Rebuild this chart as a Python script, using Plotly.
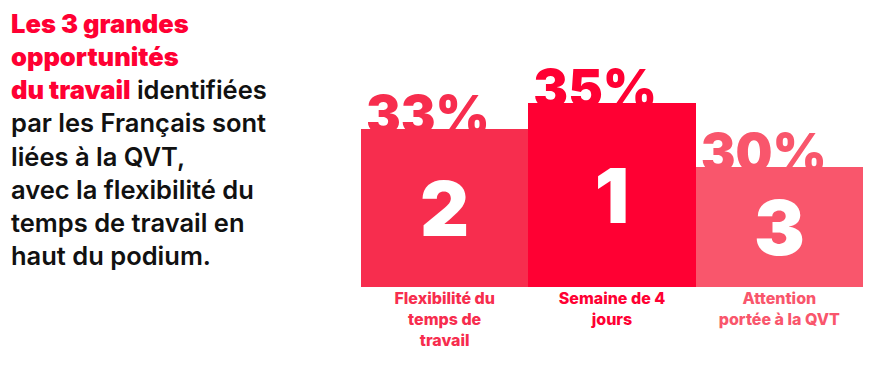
import plotly.graph_objects as go

# ---- data ----
categories = ["Flexibilité du<br>temps de<br>travail", "Semaine de 4<br>jours", "Attention<br>portée à la QVT"]
values = [33, 35, 30]
ranks = ["2", "1", "3"]
bar_colors = ["#F72D4E", "#FF0033", "#F9566C"]

# ---- layout constants ----
W, H = 889, 368
M_L, M_R, M_T, M_B = 361, 26, 40, 81
Y_MIN, Y_MAX = 20.5, 40.0
FONT = "Inter"
RED = "#FF0033"

plot_h = H - M_T - M_B
plot_w = W - M_L - M_R
px_per_unit = plot_h / (Y_MAX - Y_MIN)
xs = list(range(len(values)))

fig = go.Figure()

# percentage labels (main subplot, drawn beneath the bars of the overlay subplot)
pct_x = [i - 0.5 + 0.03 for i in xs]
pct_y = [v + 9 / px_per_unit for v in values]
fig.add_trace(go.Scatter(
    x=pct_x, y=pct_y, mode="text",
    text=[f"{v}%" for v in values],
    textposition="middle right",
    textfont=dict(family=FONT, size=52, color=bar_colors, weight=900),
    cliponaxis=False, hoverinfo="skip", showlegend=False,
    xaxis="x", yaxis="y",
))

# podium bars (overlay subplot, drawn on top)
fig.add_trace(go.Bar(
    x=xs, y=[v - Y_MIN for v in values], base=Y_MIN, width=1,
    marker=dict(color=bar_colors, line=dict(width=0)),
    text=ranks, textposition="inside", insidetextanchor="middle", textangle=0,
    textfont=dict(family=FONT, size=76, color="white", weight=900),
    hoverinfo="skip", showlegend=False,
    xaxis="x", yaxis="y2",
))

ticktext = []
for cat, col in zip(categories, bar_colors):
    lines = cat.split("<br>")
    ticktext.append("<br>".join(f'<span style="color:{col}">{ln}</span>' for ln in lines))

left_text = (
    f'<span style="color:{RED};font-weight:900">Les 3 grandes</span><br>'
    f'<span style="color:{RED};font-weight:900">opportunités</span><br>'
    f'<span style="color:{RED};font-weight:900">du travail</span> identifiées<br>'
    'par les Français sont<br>'
    'liées à la QVT,<br>'
    'avec la flexibilité du<br>'
    'temps de travail en<br>'
    'haut du podium.'
)
fig.add_annotation(
    xref="paper", yref="paper",
    x=(9 - M_L) / plot_w, y=(H - M_B - 6) / plot_h,
    xanchor="left", yanchor="top", align="left", showarrow=False,
    text=left_text,
    font=dict(family=FONT, size=25.5, color="#111111", weight=600),
)

fig.update_layout(
    width=W, height=H,
    margin=dict(l=M_L, r=M_R, t=M_T, b=M_B),
    paper_bgcolor="white", plot_bgcolor="white",
    barmode="overlay", bargap=0,
    xaxis=dict(range=[-0.5, len(values) - 0.5], tickvals=xs, ticktext=ticktext,
               showgrid=False, zeroline=False, showline=False, ticks="",
               tickfont=dict(family=FONT, size=16, weight=800)),
    yaxis=dict(range=[Y_MIN, Y_MAX], visible=False),
    yaxis2=dict(range=[Y_MIN, Y_MAX], visible=False, overlaying="y"),
    showlegend=False,
)

fig.write_html("out.html", config={"displayModeBar": False},
               post_script="document.body.style.margin='0';")
